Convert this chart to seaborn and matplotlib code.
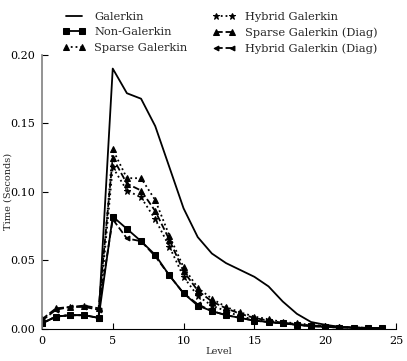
import numpy as np
import pandas as pd
import seaborn as sns
import matplotlib
matplotlib.use("Agg")
import matplotlib.pyplot as plt

levels = list(range(25))

galerkin = [0.004, 0.009, 0.010, 0.010, 0.008, 0.190, 0.172, 0.168, 0.148, 0.118,
            0.088, 0.067, 0.055, 0.048, 0.043, 0.038, 0.031, 0.020, 0.011, 0.005,
            0.003, 0.0015, 0.0008, 0.0005, 0.0004]
non_galerkin = [0.004, 0.009, 0.010, 0.010, 0.008, 0.082, 0.073, 0.064, 0.054, 0.039,
                0.026, 0.017, 0.013, 0.010, 0.008, 0.006, 0.005, 0.004, 0.003, 0.002,
                0.0015, 0.001, 0.001, 0.0007, 0.0005]
sparse_galerkin = [0.004, 0.009, 0.010, 0.010, 0.008, 0.131, 0.110, 0.110, 0.094, 0.068,
                   0.045, 0.030, 0.022, 0.016, 0.012, 0.009, 0.007, 0.005, 0.004, 0.003,
                   0.002, 0.0015, 0.001, 0.0008, 0.0005]
hybrid_galerkin = [0.004, 0.009, 0.010, 0.010, 0.008, 0.118, 0.101, 0.096, 0.080, 0.060,
                   0.038, 0.024, 0.017, 0.013, 0.009, 0.007, 0.005, 0.004, 0.003, 0.002,
                   0.0015, 0.001, 0.0008, 0.0006, 0.0004]
sparse_diag = [0.007, 0.015, 0.016, 0.017, 0.015, 0.125, 0.106, 0.101, 0.086, 0.065,
               0.042, 0.028, 0.020, 0.015, 0.011, 0.008, 0.006, 0.0045, 0.0035, 0.0025,
               0.002, 0.0015, 0.001, 0.0007, 0.0005]
hybrid_diag = [0.006, 0.014, 0.016, 0.016, 0.014, 0.080, 0.066, 0.064, 0.053, 0.039,
               0.026, 0.018, 0.013, 0.010, 0.008, 0.006, 0.005, 0.004, 0.003, 0.002,
               0.0015, 0.001, 0.0008, 0.0006, 0.0004]

series = [
    ("Galerkin", galerkin, "-", None, 0),
    ("Non-Galerkin", non_galerkin, "-", "s", 4),
    ("Sparse Galerkin", sparse_galerkin, ":", "^", 4.5),
    ("Hybrid Galerkin", hybrid_galerkin, ":", "*", 5),
    ("Sparse Galerkin (Diag)", sparse_diag, "--", "^", 4),
    ("Hybrid Galerkin (Diag)", hybrid_diag, "--", "<", 3.5),
]

sns.set_style("ticks")
plt.rcParams["font.family"] = ["DejaVu Serif"]

fig = plt.figure(figsize=(4.07, 3.61), dpi=100)
ax = fig.add_axes([0.103, 0.089, 0.870, 0.759])

for name, vals, ls, mk, ms in series:
    sns.lineplot(x=levels, y=vals, ax=ax, color="black", linestyle=ls, marker=mk,
                 markersize=ms, markeredgecolor="black", linewidth=1.3, label=name)

ax.set_xlim(0, 25)
ax.set_ylim(0, 0.20)
ax.set_xticks([0, 5, 10, 15, 20, 25])
ax.set_yticks([0.00, 0.05, 0.10, 0.15, 0.20])
ax.set_yticklabels(["0.00", "0.05", "0.10", "0.15", "0.20"])
ax.tick_params(direction="in", length=4, labelsize=8, colors="black", pad=5)
ax.set_xlabel("Level", fontsize=7)
ax.set_ylabel("Time (Seconds)", fontsize=7)
ax.yaxis.set_label_coords(-0.083, 0.5)
ax.xaxis.set_label_coords(0.5, -0.065)
sns.despine(ax=ax)
ax.spines["left"].set_color("0.5")
ax.spines["left"].set_linewidth(1.2)
ax.spines["bottom"].set_color("black")

ax.legend(loc="upper center", bbox_to_anchor=(0.54, 0.98),
          bbox_transform=fig.transFigure, ncol=2, frameon=False,
          fontsize=8.2, numpoints=2, handlelength=2.0, columnspacing=2.2,
          labelspacing=0.5, borderaxespad=0, handletextpad=0.8)

fig.savefig("out.png", dpi=100)
